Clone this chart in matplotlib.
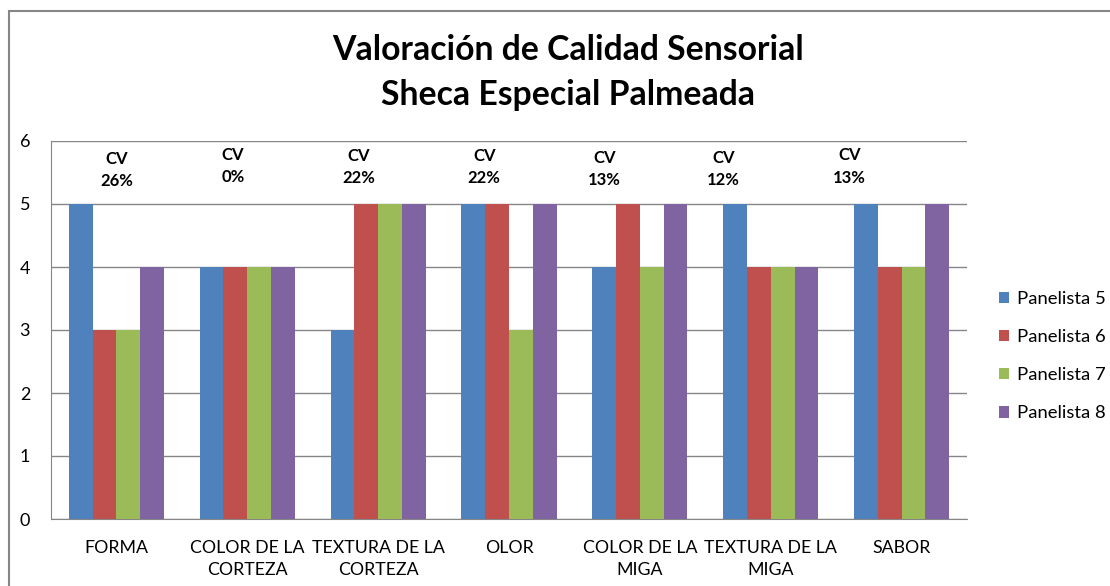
import matplotlib
matplotlib.use("Agg")
import matplotlib.pyplot as plt
import numpy as np
from matplotlib.patches import Rectangle

categories = ["FORMA", "COLOR DE LA\nCORTEZA", "TEXTURA DE LA\nCORTEZA", "OLOR",
              "COLOR DE LA\nMIGA", "TEXTURA DE LA\nMIGA", "SABOR"]
series_names = ["Panelista 5", "Panelista 6", "Panelista 7", "Panelista 8"]
panelista_5 = [5, 4, 3, 5, 4, 5, 5]
panelista_6 = [3, 4, 5, 5, 5, 4, 4]
panelista_7 = [3, 4, 5, 3, 4, 4, 4]
panelista_8 = [4, 4, 5, 5, 5, 4, 5]
cv_labels = ["26%", "0%", "22%", "22%", "13%", "12%", "13%"]
yticks = [0, 1, 2, 3, 4, 5, 6]

colors = ["#4F81BD", "#C0504D", "#9BBB59", "#8064A2"]
font = "Lato"

fig = plt.figure(figsize=(11.10, 5.86), dpi=100)
W, H = 1110, 586
# outer chart frame
fig.patches.append(Rectangle((9 / W, -0.1), 1.2, (586 - 11) / H + 0.1,
                             transform=fig.transFigure, fill=False,
                             edgecolor="#868686", linewidth=1.5))

ax = fig.add_axes([51 / W, (586 - 519) / H, (967 - 51) / W, (519 - 141) / H])
series = [panelista_5, panelista_6, panelista_7, panelista_8]
x = np.arange(len(categories))
bw = 1 / 5.5
for i, (vals, c, name) in enumerate(zip(series, colors, series_names)):
    ax.bar(x + (i - 1.5) * bw, vals, width=bw, color=c, label=name, zorder=3, linewidth=0)

ax.set_xlim(-0.5, len(categories) - 0.5)
ax.set_ylim(0, 6)
ax.set_yticks(yticks)
ax.set_yticklabels([str(v) for v in yticks], fontsize=13, family=font)
ax.set_xticks(x)
ax.set_xticklabels(categories, fontsize=12.8, family=font, linespacing=1.5)
ax.tick_params(axis="both", length=0)
ax.tick_params(axis="x", pad=15)
ax.tick_params(axis="y", pad=15)
ax.grid(axis="y", color="#868686", linewidth=1, zorder=0)
for s in ["top", "right"]:
    ax.spines[s].set_visible(False)
ax.spines["left"].set_color("#868686")
ax.spines["bottom"].set_color("#868686")

cv_x = [0.0, 0.89, 1.85, 2.81, 3.73, 4.64, 5.60]
cv_y = [5.72, 5.78, 5.76, 5.76, 5.73, 5.73, 5.77]
for xx, yy, lab in zip(cv_x, cv_y, cv_labels):
    ax.text(xx, yy, "CV", ha="center", va="center", fontsize=12, fontweight="bold", family=font)
    ax.text(xx, yy - 0.35, lab, ha="center", va="center", fontsize=12, fontweight="bold", family=font)

fig.text(568 / W, 1 - 50 / H, "Valoración de Calidad Sensorial", ha="center", va="center",
         fontsize=24.3, fontweight="bold", family=font)
fig.text(568 / W, 1 - 95 / H, "Sheca Especial Palmeada", ha="center", va="center",
         fontsize=24.3, fontweight="bold", family=font)

leg = fig.legend(loc="upper left", bbox_to_anchor=(999 / W, 1 - 291 / H), frameon=False,
                 prop={"family": font, "size": 13.3}, handlelength=0.55, handleheight=0.55,
                 handletextpad=0.45, labelspacing=1.2, borderaxespad=0, borderpad=0)

fig.savefig("out.png", dpi=100)
